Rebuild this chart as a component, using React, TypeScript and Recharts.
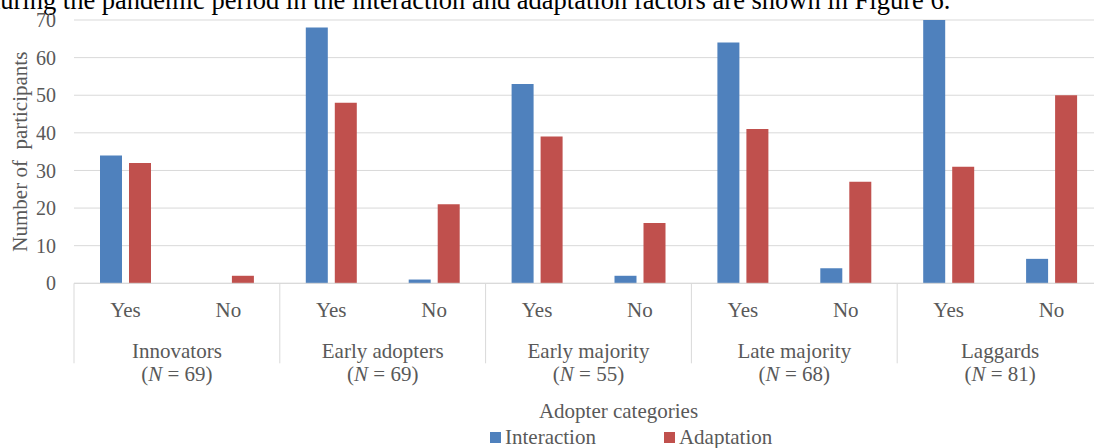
import { BarChart, Bar, XAxis, YAxis, CartesianGrid, Legend } from "recharts";

const SERIF = '"Liberation Serif", "Times New Roman", serif';
const TEXT_GRAY = "#595959";
const RULE_GRAY = "#d9d9d9";

const groups = ["Innovators", "Early adopters", "Early majority", "Late majority", "Laggards"];
const groupN = [69, 69, 55, 68, 81];
const answers = ["Yes", "No"];
const interaction = [34, 0, 68, 1, 53, 2, 64, 4, 70, 6.5];
const adaptation = [32, 2, 48, 21, 39, 16, 41, 27, 31, 50];
const seriesNames = ["Interaction", "Adaptation"];
const yTicks = [0, 10, 20, 30, 40, 50, 60, 70];

const rows = groups.flatMap((group, g) =>
  answers.map((answer, a) => {
    const i = g * answers.length + a;
    return {
      group,
      n: groupN[g],
      answer,
      interaction: interaction[i],
      adaptation: adaptation[i],
    };
  })
);

// chart frame
const CHART_W = 1110;
const CHART_H = 448;
const Y_AXIS_W = 74;
const MARGIN = { top: 20, right: 7, bottom: 29.7, left: 0 };
const PLOT_W = CHART_W - Y_AXIS_W - MARGIN.left - MARGIN.right;
const BAND = PLOT_W / rows.length;

const labelStyle = { fontFamily: SERIF, fontSize: 21, fill: TEXT_GRAY };

function AnswerTick(props: any) {
  const { x, y, index, payload } = props;
  const row = rows[index];
  const first = index % answers.length === 0;
  const last = index === rows.length - 1;
  return (
    <g>
      <text x={x} y={y + 33.5} textAnchor="middle" style={labelStyle}>
        {payload.value}
      </text>
      {first && (
        <>
          <line x1={x - BAND / 2} x2={x - BAND / 2} y1={y} y2={y + 80} stroke={RULE_GRAY} />
          <text x={x + BAND / 2} y={y + 75} textAnchor="middle" style={labelStyle}>
            {row.group}
          </text>
          <text x={x + BAND / 2} y={y + 98} textAnchor="middle" style={labelStyle}>
            (<tspan fontStyle="italic">N</tspan> = {row.n})
          </text>
        </>
      )}
      {last && (
        <line x1={x + BAND / 2} x2={x + BAND / 2} y1={y} y2={y + 80} stroke={RULE_GRAY} />
      )}
    </g>
  );
}

function LegendContent(props: any) {
  const items = [...(props.payload || [])].sort(
    (a: any, b: any) => seriesNames.indexOf(a.value) - seriesNames.indexOf(b.value)
  );
  return (
    <div style={{ display: "flex", alignItems: "center" }}>
      {items.map((item: any, i: number) => (
        <div
          key={item.value}
          style={{
            display: "flex",
            alignItems: "center",
            marginRight: i === 0 ? 68 : 0,
          }}
        >
          <span
            style={{
              display: "inline-block",
              width: 11,
              height: 11,
              background: item.color,
              marginRight: 4,
            }}
          />
          <span style={{ fontFamily: SERIF, fontSize: 21, color: TEXT_GRAY, lineHeight: "24px" }}>
            {item.value}
          </span>
        </div>
      ))}
    </div>
  );
}

export default function App() {
  return (
    <div
      style={{
        position: "absolute",
        left: 0,
        top: 0,
        width: 1094,
        height: 448,
        overflow: "hidden",
        background: "#fff",
      }}
    >
      <svg
        width={1094}
        height={20}
        style={{ position: "absolute", left: 0, top: 0, overflow: "hidden" }}
      >
        <text x={-13} y={9} style={{ fontFamily: SERIF, fontSize: 26.5, fill: "#000" }}>
          during the pandemic period in the interaction and adaptation factors are shown in Figure 6.
        </text>
      </svg>
      <BarChart width={CHART_W} height={CHART_H} data={rows} margin={MARGIN} barGap={7} barSize={22}>
        <CartesianGrid vertical={false} stroke={RULE_GRAY} />
        <XAxis
          dataKey="answer"
          interval={0}
          height={135}
          tickLine={false}
          tickSize={0}
          tickMargin={0}
          axisLine={{ stroke: RULE_GRAY }}
          tick={<AnswerTick />}
          label={{
            value: "Adopter categories",
            position: "insideBottom",
            offset: 0,
            dx: 30,
            style: labelStyle,
          }}
        />
        <YAxis
          width={Y_AXIS_W}
          domain={[0, 70]}
          ticks={yTicks}
          interval={0}
          axisLine={false}
          tickLine={false}
          tickSize={0}
          tickMargin={18}
          tick={{ fontFamily: SERIF, fontSize: 20, fill: TEXT_GRAY }}
          label={{
            value: "Number of\u00A0 participants",
            angle: -90,
            position: "insideLeft",
            offset: 20,
            style: { ...labelStyle, textAnchor: "middle" },
          }}
        />
        <Legend
          layout="horizontal"
          verticalAlign="middle"
          align="center"
          content={<LegendContent />}
          wrapperStyle={{ left: 490, top: 425, width: "auto" }}
        />
        <Bar dataKey="interaction" name="Interaction" fill="#4F81BD" isAnimationActive={false} />
        <Bar dataKey="adaptation" name="Adaptation" fill="#C0504D" isAnimationActive={false} />
      </BarChart>
    </div>
  );
}
